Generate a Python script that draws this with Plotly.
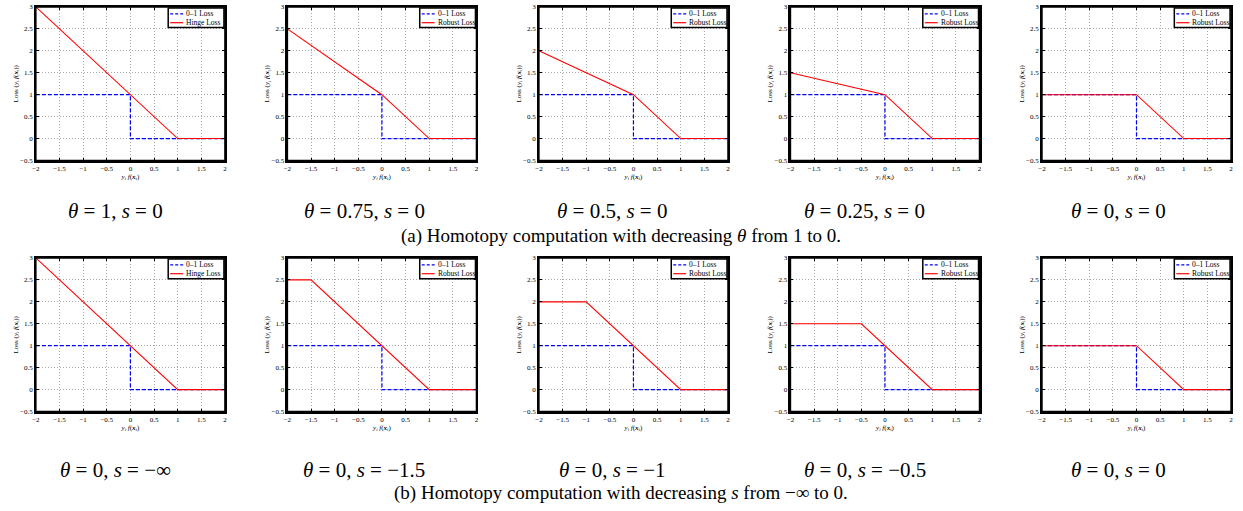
import plotly.graph_objects as go

W, H = 1243, 511

# 0-1 loss (same in every panel)
zero_one_x = [-2, 0, 0, 2]
zero_one_y = [1, 1, 0, 0]

# Row (a): decreasing theta, s = 0
row_a_names = ["Hinge Loss", "Robust Loss", "Robust Loss", "Robust Loss", "Robust Loss"]
row_a_x = [[-2, 1, 2], [-2, 0, 1, 2], [-2, 0, 1, 2], [-2, 0, 1, 2], [-2, 0, 1, 2]]
row_a_y = [[3, 0, 0], [2.5, 1, 0, 0], [2, 1, 0, 0], [1.5, 1, 0, 0], [1, 1, 0, 0]]
row_a_titles = ["<i>θ</i> = 1, <i>s</i> = 0", "<i>θ</i> = 0.75, <i>s</i> = 0",
                "<i>θ</i> = 0.5, <i>s</i> = 0", "<i>θ</i> = 0.25, <i>s</i> = 0",
                "<i>θ</i> = 0, <i>s</i> = 0"]

# Row (b): theta = 0, increasing s
row_b_names = ["Hinge Loss", "Robust Loss", "Robust Loss", "Robust Loss", "Robust Loss"]
row_b_x = [[-2, 1, 2], [-2, -1.5, 1, 2], [-2, -1, 1, 2], [-2, -0.5, 1, 2], [-2, 0, 1, 2]]
row_b_y = [[3, 0, 0], [2.5, 2.5, 0, 0], [2, 2, 0, 0], [1.5, 1.5, 0, 0], [1, 1, 0, 0]]
row_b_titles = ["<i>θ</i> = 0, <i>s</i> = −∞", "<i>θ</i> = 0, <i>s</i> = −1.5",
                "<i>θ</i> = 0, <i>s</i> = −1", "<i>θ</i> = 0, <i>s</i> = −0.5",
                "<i>θ</i> = 0, <i>s</i> = 0"]

captions = ["(a) Homotopy computation with decreasing <i>θ</i> from 1 to 0.",
            "(b) Homotopy computation with decreasing <i>s</i> from −∞ to 0."]

x_ticks = [-2, -1.5, -1, -0.5, 0, 0.5, 1, 1.5, 2]
y_ticks = [-0.5, 0, 0.5, 1, 1.5, 2, 2.5, 3]

col_left = [32, 284.75, 537.5, 790.25, 1043]
panel_w = 190
row_top = [3, 258]
panel_h = 156
title_x = [112, 362, 611, 865, 1120]
title_y = [210, 473]
caption_y = [236, 497]

SERIF = "Liberation Serif, Times New Roman, serif"
INK = "#000000"


def px(x):
    return x / W


def py(y):
    return 1 - y / H


fig = go.Figure()
layout = dict(width=W, height=H, margin=dict(l=0, r=0, t=0, b=0),
              paper_bgcolor="white", plot_bgcolor="white", showlegend=False,
              font=dict(family=SERIF, color="black"))
annotations = []
shapes = []

rows = [(row_a_names, row_a_x, row_a_y, row_a_titles),
        (row_b_names, row_b_x, row_b_y, row_b_titles)]
idx = 0
for r, (names, xs, ys, titles) in enumerate(rows):
    for c in range(5):
        idx += 1
        sfx = "" if idx == 1 else str(idx)
        xa, ya = "x" + sfx, "y" + sfx
        L = col_left[c]
        T = row_top[r]
        common = dict(showline=True, mirror="all", linecolor=INK, linewidth=1.5,
                      ticks="inside", ticklen=3, tickcolor=INK, tickwidth=1,
                      showgrid=True, gridcolor="#a8a8a8", griddash="1px,2px", gridwidth=1,
                      zeroline=False, tickfont=dict(size=7, family=SERIF))
        layout["xaxis" + sfx] = dict(domain=[px(L), px(L + panel_w)], anchor=ya, range=[-2, 2],
                                     tickvals=x_ticks,
                                     ticktext=[("−" if v < 0 else "") + f"{abs(v):g}" for v in x_ticks],
                                     title=dict(text="<i>y<sub>i</sub> f</i>(<b><i>x</i></b><sub>i</sub>)",
                                                font=dict(size=7, family=SERIF), standoff=1),
                                     **common)
        layout["yaxis" + sfx] = dict(domain=[py(T + panel_h), py(T)], anchor=xa, range=[-0.5, 3],
                                     tickvals=y_ticks,
                                     ticktext=[("−" if v < 0 else "") + f"{abs(v):g}" for v in y_ticks],
                                     title=dict(text="Loss (<i>y<sub>i</sub> f</i>(<b><i>x</i></b><sub>i</sub>))",
                                                font=dict(size=7, family=SERIF), standoff=1),
                                     **common)
        fig.add_trace(go.Scatter(x=zero_one_x, y=zero_one_y, mode="lines", name="0–1 Loss",
                                 line=dict(color="blue", width=1.2, dash="4px,2px"),
                                 xaxis=xa, yaxis=ya))
        fig.add_trace(go.Scatter(x=xs[c], y=ys[c], mode="lines", name=names[c],
                                 line=dict(color="red", width=1.1),
                                 xaxis=xa, yaxis=ya))
        # axes frame
        shapes.append(dict(type="rect", xref=xa + " domain", yref=ya + " domain",
                           x0=0, x1=1, y0=0, y1=1, layer="above",
                           line=dict(color=INK, width=1.5)))
        # legend box (drawn like the MATLAB legend)
        R = L + panel_w
        shapes.append(dict(type="rect", xref="paper", yref="paper",
                           x0=px(R - 57), x1=px(R - 1), y0=py(T + 21), y1=py(T + 1),
                           fillcolor="white", line=dict(color=INK, width=1.5)))
        shapes.append(dict(type="line", xref="paper", yref="paper",
                           x0=px(R - 55), x1=px(R - 42), y0=py(T + 7), y1=py(T + 7),
                           line=dict(color="blue", width=1.2, dash="3px,2px")))
        shapes.append(dict(type="line", xref="paper", yref="paper",
                           x0=px(R - 55), x1=px(R - 42), y0=py(T + 16), y1=py(T + 16),
                           line=dict(color="red", width=1.2)))
        annotations.append(dict(text="0–1 Loss", x=px(R - 41), y=py(T + 7),
                                xref="paper", yref="paper", showarrow=False,
                                xanchor="left", yanchor="middle",
                                font=dict(size=7.5, family=SERIF, color="black")))
        annotations.append(dict(text=names[c], x=px(R - 41), y=py(T + 16),
                                xref="paper", yref="paper", showarrow=False,
                                xanchor="left", yanchor="middle",
                                font=dict(size=7.5, family=SERIF, color="black")))
        annotations.append(dict(text=titles[c], x=px(title_x[c]), y=py(title_y[r]),
                                xref="paper", yref="paper", showarrow=False,
                                xanchor="center", yanchor="middle",
                                font=dict(size=21, family=SERIF, color="black")))
    annotations.append(dict(text=captions[r], x=px(620), y=py(caption_y[r]),
                            xref="paper", yref="paper", showarrow=False,
                            xanchor="center", yanchor="middle",
                            font=dict(size=19, family=SERIF, color="black")))

layout["annotations"] = annotations
layout["shapes"] = shapes
fig.update_layout(**layout)
fig.write_html("out.html", config={"displayModeBar": False},
               post_script="document.body.style.margin='0';document.body.style.overflow='hidden';")
